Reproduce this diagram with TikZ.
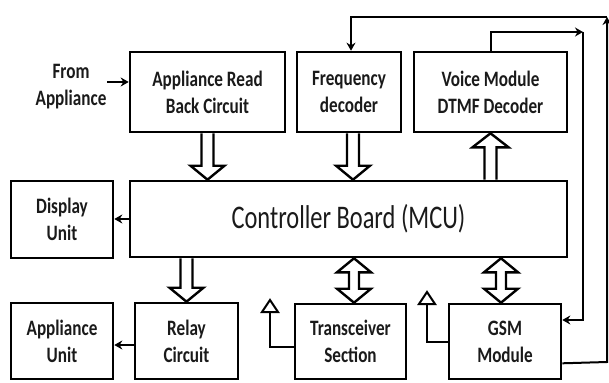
\documentclass[tikz,border=0pt]{standalone}
\usepackage{fontspec}
\setmainfont{Carlito}
\usetikzlibrary{arrows.meta,calc}
\definecolor{txt}{HTML}{1A1A1A}
\newcommand\sqz[1]{\scalebox{0.78}[1]{#1}}
\newcommand\sqc[1]{\scalebox{0.74}[1]{#1}}
\newcommand\lbl{\fontsize{22}{27}\selectfont\bfseries}
% block arrow, head at bottom: x from #1, from y of #2 to y of #3
\newcommand\bdown[3]{\draw[blk] let \p1=(#1), \p2=(#2), \p3=(#3) in
  (\x1-6pt,\y2) -- (\x1-6pt,\y3+14pt) -- (\x1-17pt,\y3+14pt) -- (\x1,\y3)
  -- (\x1+17pt,\y3+14pt) -- (\x1+6pt,\y3+14pt) -- (\x1+6pt,\y2);}
% block arrow, head at top: x from #1, base at y of #2, tip at y of #3
\newcommand\bup[3]{\draw[blk] let \p1=(#1), \p2=(#2), \p3=(#3) in
  (\x1-6pt,\y2) -- (\x1-6pt,\y3-14pt) -- (\x1-18pt,\y3-14pt) -- (\x1,\y3)
  -- (\x1+18pt,\y3-14pt) -- (\x1+6pt,\y3-14pt) -- (\x1+6pt,\y2);}
% double-headed block arrow: x from #1, top tip at y of #2, bottom tip at y of #3
\newcommand\bboth[3]{\draw[blk] let \p1=(#1), \p2=(#2), \p3=(#3) in
  (\x1,\y2) -- (\x1+17pt,\y2-14pt) -- (\x1+5pt,\y2-14pt) -- (\x1+5pt,\y3+14pt)
  -- (\x1+17pt,\y3+14pt) -- (\x1,\y3) -- (\x1-17pt,\y3+14pt) -- (\x1-5pt,\y3+14pt)
  -- (\x1-5pt,\y2-14pt) -- (\x1-17pt,\y2-14pt) -- cycle;}
\begin{document}
\begin{tikzpicture}[x=1pt,y=-1pt,
  box/.style={draw, line width=2.6pt, inner sep=0pt, align=center, font=\lbl, text=txt},
  blk/.style={draw, line width=2.4pt, line join=miter},
  thinarr/.style={line width=2pt, line join=miter, -{Stealth[length=8pt,width=9pt]}},
  ln/.style={line width=2pt, line join=miter}]
\useasboundingbox (0,0) rectangle (609,382);
% boxes
\node[box, minimum width=155, minimum height=80] (arb) at (207.5,92) {\sqz{Appliance Read}\\\sqz{Back Circuit}};
\node[box, minimum width=104, minimum height=80] (freq) at (349,92) {\sqz{Frequency}\\\sqz{decoder}};
\node[box, minimum width=153, minimum height=80] (voice) at (490.5,92) {\sqz{Voice Module}\\\sqz{DTMF Decoder}};
\node[box, minimum width=437, minimum height=76, font=\fontsize{33}{36}\selectfont] (ctrl) at (348.5,219) {\sqc{Controller Board (MCU)}};
\node[box, minimum width=102, minimum height=77] (disp) at (62,219.5) {\sqz{Display}\\\sqz{Unit}};
\node[box, minimum width=102, minimum height=76] (appu) at (62,341) {\sqz{Appliance}\\\sqz{Unit}};
\node[box, minimum width=103, minimum height=76] (relay) at (186.5,341) {\sqz{Relay}\\\sqz{Circuit}};
\node[box, minimum width=111, minimum height=75] (trans) at (350.5,341.5) {\sqz{Transceiver}\\\sqz{Section}};
\node[box, minimum width=112, minimum height=75] (gsm) at (505,341.5) {\sqz{GSM}\\\sqz{Module}};
\node[font=\lbl, text=txt, align=center] (from) at (71,87) {\sqz{From}\\\sqz{Appliance}};
% block arrows
\bdown{arb.south}{arb.south}{ctrl.north}
\bdown{$(freq.south)+(4,0)$}{freq.south}{ctrl.north}
\bup{voice.south}{ctrl.north}{voice.south}
\bdown{relay.north}{ctrl.south}{relay.north}
\bboth{$(trans.north)+(3.5,0)$}{ctrl.south}{trans.north}
\bboth{$(gsm.north)+(-4,0)$}{ctrl.south}{gsm.north}
% thin arrows
\coordinate (fa) at (107,82);
\draw[thinarr] (fa) -- (fa -| arb.west);
\draw[thinarr] (ctrl.west) -- (ctrl.west -| disp.east);
\coordinate (r1) at ($(relay.west)+(0,4)$);
\draw[thinarr] (r1) -- (r1 -| appu.east);
% feedback loops
\coordinate (i1) at (583,32);
\coordinate (i2) at (583,320);
\draw[thinarr] (voice.north) -- (voice.north |- i1) -- (i1);
\draw[thinarr] (i1) -- (i2) -- (i2 -| gsm.east);
\coordinate (g1) at ($(gsm.south east)+(0,-17)$);
\coordinate (o1) at (607,362);
\coordinate (o2) at (607,17);
\coordinate (o3) at (351,17);
\draw[thinarr] (g1) -- (o1) -- (o2);
\draw[thinarr] (o2) -- (o3) -- (o3 |- freq.north);
% open triangle arrows
\coordinate (t1) at (270,300);
\coordinate (t2) at (427,292);
\coordinate (ts) at ($(trans.west)+(0,5.5)$);
\coordinate (gs) at ($(gsm.west)+(0,0.5)$);
\draw[ln] (ts) -- (ts -| t1) -- ($(t1)+(0,12)$);
\draw[ln] (gs) -- (gs -| t2) -- ($(t2)+(0,12)$);
\draw[ln] (t1) -- ($(t1)+(8,12)$) -- ($(t1)+(-8,12)$) -- cycle;
\draw[ln] (t2) -- ($(t2)+(8,12)$) -- ($(t2)+(-8,12)$) -- cycle;
\end{tikzpicture}
\end{document}
